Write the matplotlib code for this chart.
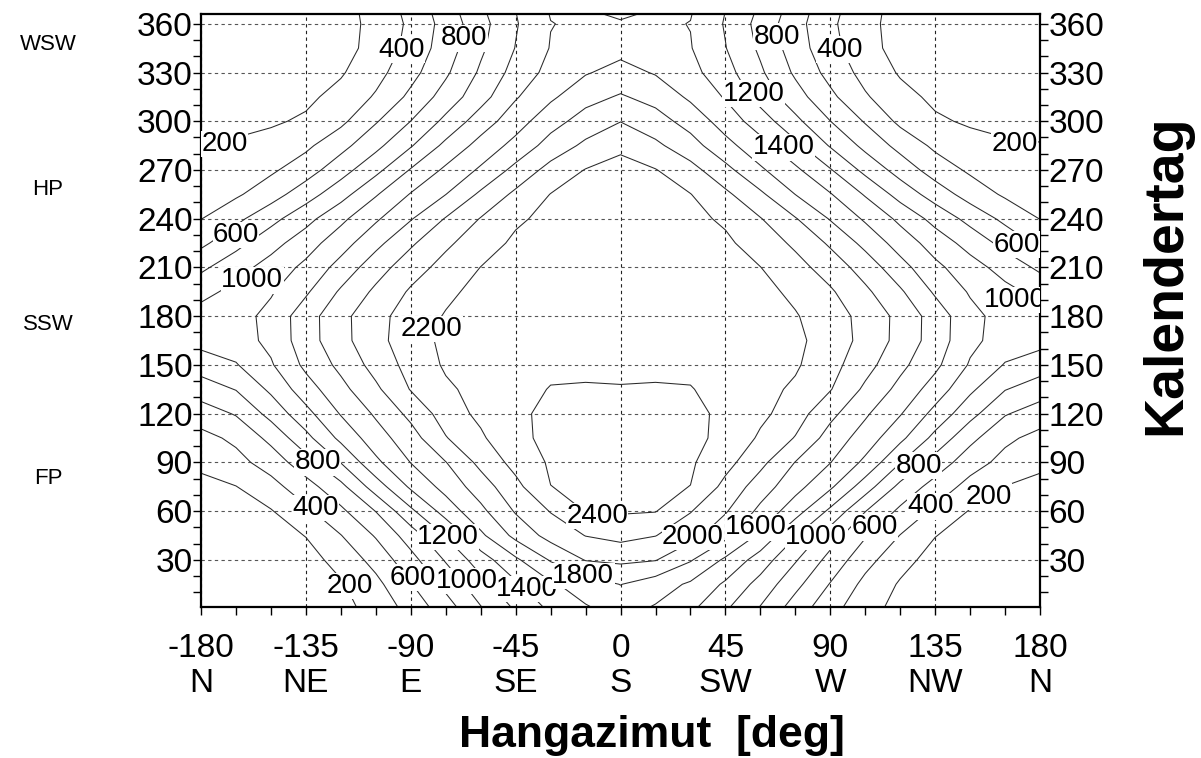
import matplotlib
matplotlib.use("Agg")
import matplotlib.pyplot as plt
import numpy as np
from matplotlib.ticker import MultipleLocator
from matplotlib.transforms import blended_transform_factory

plt.rcParams["font.family"] = ["Liberation Sans", "DejaVu Sans"]

# slope azimuth (deg, 0 = south) and calendar day of the grid
azimuth = [-180, -165, -150, -135, -120, -105, -90, -75, -60, -45, -30, -15, 0,
           15, 30, 45, 60, 75, 90, 105, 120, 135, 150, 165, 180]
days = [1, 15, 30, 45, 60, 75, 90, 105, 120, 135, 150, 165, 180, 195, 210,
        225, 240, 255, 270, 285, 300, 315, 330, 345, 360, 366]

# values, one row per calendar day
values = [
    [20, 28, 45, 80, 140, 275, 474, 713, 992, 1233, 1446, 1585, 1680, 1585, 1446, 1233, 992, 713, 474, 275, 140, 80, 45, 28, 20],
    [30, 40, 58, 105, 180, 346, 589, 857, 1130, 1369, 1570, 1699, 1805, 1699, 1570, 1369, 1130, 857, 589, 346, 180, 105, 58, 40, 30],
    [45, 58, 80, 126, 268, 468, 732, 1019, 1306, 1565, 1818, 2010, 2040, 2010, 1818, 1565, 1306, 1019, 732, 468, 268, 126, 80, 58, 45],
    [65, 85, 115, 206, 394, 618, 898, 1214, 1559, 1856, 2072, 2205, 2262, 2205, 2072, 1856, 1559, 1214, 898, 618, 394, 206, 115, 85, 65],
    [100, 130, 187, 359, 559, 805, 1157, 1485, 1750, 2019, 2210, 2408, 2420, 2408, 2210, 2019, 1750, 1485, 1157, 805, 559, 359, 187, 130, 100],
    [150, 195, 330, 519, 743, 1096, 1433, 1668, 1900, 2144, 2398, 2429, 2460, 2429, 2398, 2144, 1900, 1668, 1433, 1096, 743, 519, 330, 195, 150],
    [240, 338, 485, 720, 1007, 1356, 1605, 1794, 2054, 2266, 2425, 2460, 2480, 2460, 2425, 2266, 2054, 1794, 1605, 1356, 1007, 720, 485, 338, 240],
    [340, 440, 655, 940, 1250, 1511, 1716, 1989, 2165, 2386, 2414, 2442, 2470, 2442, 2414, 2386, 2165, 1989, 1716, 1511, 1250, 940, 655, 440, 340],
    [500, 616, 866, 1137, 1414, 1628, 1853, 2091, 2250, 2390, 2412, 2431, 2450, 2431, 2412, 2390, 2250, 2091, 1853, 1628, 1414, 1137, 866, 616, 500],
    [700, 808, 1039, 1310, 1541, 1762, 2011, 2168, 2262, 2340, 2408, 2410, 2405, 2410, 2408, 2340, 2262, 2168, 2011, 1762, 1541, 1310, 1039, 808, 700],
    [890, 986, 1179, 1446, 1650, 1874, 2070, 2225, 2290, 2335, 2362, 2375, 2380, 2375, 2362, 2335, 2290, 2225, 2070, 1874, 1650, 1446, 1179, 986, 890],
    [1070, 1110, 1250, 1510, 1735, 1940, 2108, 2245, 2285, 2322, 2345, 2356, 2360, 2356, 2345, 2322, 2285, 2245, 2108, 1940, 1735, 1510, 1250, 1110, 1070],
    [1080, 1120, 1260, 1511, 1741, 1938, 2089, 2215, 2270, 2310, 2330, 2340, 2345, 2340, 2330, 2310, 2270, 2215, 2089, 1938, 1741, 1511, 1260, 1120, 1080],
    [940, 1057, 1180, 1372, 1629, 1840, 2026, 2157, 2260, 2290, 2312, 2325, 2330, 2325, 2312, 2290, 2260, 2157, 2026, 1840, 1629, 1372, 1180, 1057, 940],
    [760, 922, 1082, 1248, 1473, 1714, 1912, 2070, 2203, 2255, 2290, 2308, 2315, 2308, 2290, 2255, 2203, 2070, 1912, 1714, 1473, 1248, 1082, 922, 760],
    [555, 738, 925, 1112, 1314, 1544, 1770, 1963, 2112, 2235, 2265, 2290, 2300, 2290, 2265, 2235, 2112, 1963, 1770, 1544, 1314, 1112, 925, 738, 555],
    [395, 550, 738, 933, 1154, 1371, 1586, 1813, 2010, 2170, 2250, 2270, 2285, 2270, 2250, 2170, 2010, 1813, 1586, 1371, 1154, 933, 738, 550, 395],
    [310, 371, 514, 713, 923, 1182, 1413, 1598, 1836, 2042, 2205, 2245, 2265, 2245, 2205, 2042, 1836, 1598, 1413, 1182, 923, 713, 514, 371, 310],
    [250, 309, 368, 508, 720, 944, 1215, 1438, 1630, 1858, 2070, 2208, 2250, 2208, 2070, 1858, 1630, 1438, 1215, 944, 720, 508, 368, 309, 250],
    [205, 215, 270, 360, 536, 747, 983, 1250, 1471, 1664, 1879, 2042, 2170, 2042, 1879, 1664, 1471, 1250, 983, 747, 536, 360, 270, 215, 205],
    [170, 170, 175, 228, 355, 583, 802, 1050, 1300, 1511, 1724, 1881, 1995, 1881, 1724, 1511, 1300, 1050, 802, 583, 355, 228, 175, 170, 170],
    [140, 135, 140, 160, 262, 422, 646, 883, 1123, 1382, 1565, 1733, 1820, 1733, 1565, 1382, 1123, 883, 646, 422, 262, 160, 140, 135, 140],
    [110, 110, 115, 130, 180, 333, 533, 768, 1031, 1273, 1464, 1584, 1668, 1584, 1464, 1273, 1031, 768, 533, 333, 180, 130, 115, 110, 110],
    [90, 90, 95, 110, 125, 274, 462, 700, 964, 1207, 1410, 1480, 1538, 1480, 1410, 1207, 964, 700, 462, 274, 125, 110, 95, 90, 90],
    [80, 82, 90, 105, 125, 257, 438, 675, 930, 1183, 1395, 1432, 1421, 1432, 1395, 1183, 930, 675, 438, 257, 125, 105, 90, 82, 80],
    [75, 78, 85, 100, 125, 268, 453, 696, 957, 1195, 1410, 1430, 1370, 1430, 1410, 1195, 957, 696, 453, 268, 125, 100, 85, 78, 75],
]

levels = [200, 400, 600, 800, 1000, 1200, 1400, 1600, 1800, 2000, 2200, 2400]

# contour labels as placed in the original (azimuth, day, text)
label_az = [-94, -67, 67, 94, 57, 70, -170, 169, -165, -158, 170, 169,
            -81, -10, 31, 58, 84, 109, 133, 158, 128,
            -130, -131, -74, -116, -89, -66, -40, -16]
label_day = [344, 351, 352, 344, 317, 284, 286, 286, 230, 202, 224, 190,
             172, 57, 44, 50, 44, 50, 63, 69, 88,
             90, 62, 44, 14, 19, 17, 12, 20]
label_text = ["400", "800", "800", "400", "1200", "1400", "200", "200", "600", "1000", "600", "1000",
              "2200", "2400", "2000", "1600", "1000", "600", "400", "200", "800",
              "800", "400", "1200", "200", "600", "1000", "1400", "1800"]

xtick_values = [-180, -135, -90, -45, 0, 45, 90, 135, 180]
xtick_names = ["N", "NE", "E", "SE", "S", "SW", "W", "NW", "N"]
ytick_values = [30, 60, 90, 120, 150, 180, 210, 240, 270, 300, 330, 360]

# solar calendar marks on the left margin
season_days = [347, 258, 175, 80]
season_names = ["WSW", "HP", "SSW", "FP"]

fig = plt.figure(figsize=(12.01, 7.58), dpi=100)
ax = fig.add_axes([0.1674, 0.1992, 0.6986, 0.7823])

ax.contour(azimuth, days, np.array(values), levels=levels,
           colors="#2a2a2a", linewidths=0.75, zorder=2)

for az, day, txt in zip(label_az, label_day, label_text):
    ax.text(az, day, txt, ha="center", va="center", fontsize=20, zorder=4,
            clip_on=True,
            bbox=dict(facecolor="white", edgecolor="none", pad=0.3))

ax.set_xlim(-180, 180)
ax.set_ylim(1, 366)

ax.set_xticks(xtick_values)
ax.set_xticklabels([f"{v}\n{n}" for v, n in zip(xtick_values, xtick_names)],
                   fontsize=24, linespacing=1.15)
ax.xaxis.set_minor_locator(MultipleLocator(15))
ax.set_yticks(ytick_values)
ax.set_yticklabels([str(v) for v in ytick_values], fontsize=24)
ax.yaxis.set_minor_locator(MultipleLocator(10))
ax.tick_params(axis="both", which="both", direction="out", length=6, width=1,
               colors="black")
ax.tick_params(axis="y", which="both", left=True, right=True,
               labelleft=True, labelright=True, pad=0)
ax.tick_params(axis="x", pad=13)

ax.grid(True, axis="x", which="major", color="#222222",
        linestyle=(0, (3, 3)), linewidth=0.8, zorder=1)
ax.grid(True, axis="y", which="major", color="#555555",
        linestyle=(0, (3, 3)), linewidth=0.8, zorder=1)
for spine in ax.spines.values():
    spine.set_linewidth(1.6)

fig.text(652 / 1201, 1 - 735 / 758, "Hangazimut  [deg]", ha="center",
         va="center", fontsize=32, fontweight="bold")
fig.text(1166 / 1201, 1 - 275 / 758, "Kalendertag", ha="center", va="center",
         rotation=90, fontsize=40, fontweight="bold")

mark_tr = blended_transform_factory(fig.transFigure, ax.transData)
for day, name in zip(season_days, season_names):
    ax.text(48 / 1201, day, name, transform=mark_tr, ha="center", va="center",
            fontsize=16)

fig.savefig("out.png", dpi=100)
